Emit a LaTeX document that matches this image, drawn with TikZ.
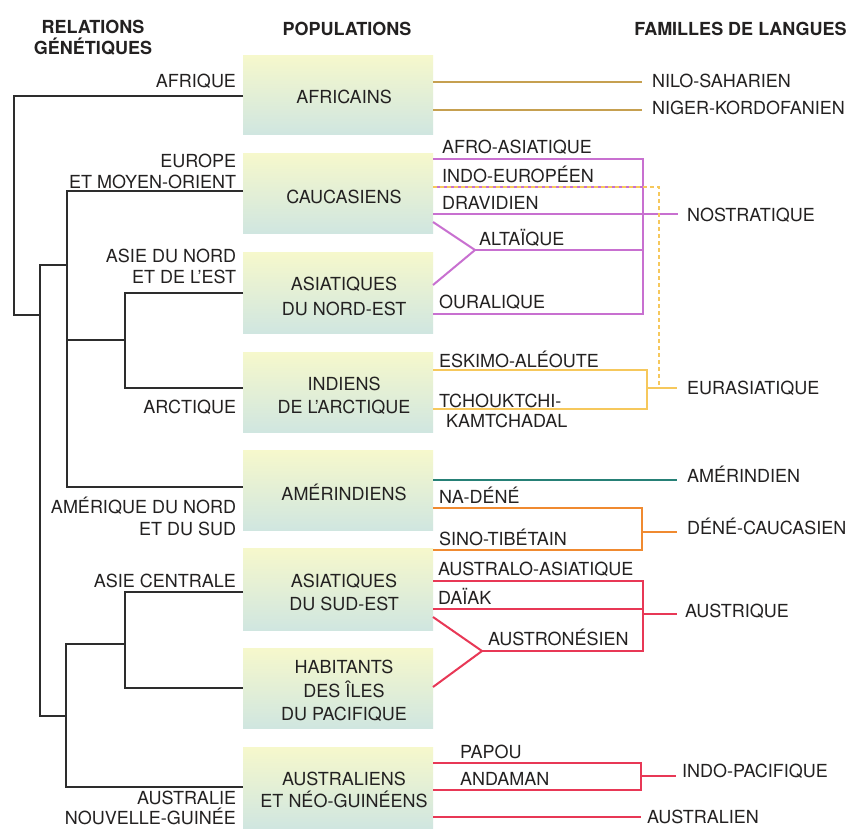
\documentclass[tikz,border=0pt]{standalone}
\usepackage{fontspec}
\setmainfont{TeX Gyre Heros}
\definecolor{txt}{RGB}{35,33,33}
\definecolor{treecol}{RGB}{45,45,45}
\definecolor{boxtop}{RGB}{246,248,204}
\definecolor{boxbot}{RGB}{208,230,224}
\definecolor{goldc}{RGB}{198,160,80}
\definecolor{magc}{RGB}{200,112,208}
\definecolor{yelc}{RGB}{246,200,92}
\definecolor{tealc}{RGB}{38,128,118}
\definecolor{orac}{RGB}{240,138,48}
\definecolor{redc}{RGB}{232,56,86}
\begin{document}
\begin{tikzpicture}[x=1pt,y=-1pt,
  every node/.style={inner sep=0pt, outer sep=0pt, text=txt, font=\fontsize{18}{22}\selectfont},
  popbox/.style={minimum width=190pt, minimum height=80pt, anchor=north west, top color=boxtop, bottom color=boxbot, draw=none},
  ptxt/.style={anchor=base},
  llab/.style={anchor=base east},
  rlab/.style={anchor=base west},
  head/.style={anchor=base, font=\fontsize{18}{22}\selectfont\bfseries},
  tree/.style={draw=treecol, line width=1.4pt},
  fam/.style={line width=2pt, line join=miter},
  goldl/.style={fam, draw=goldc},
  magl/.style={fam, draw=magc},
  yell/.style={fam, draw=yelc},
  teall/.style={fam, draw=tealc},
  oral/.style={fam, draw=orac},
  redl/.style={fam, draw=redc},
  dashl/.style={draw=yelc, line width=1.6pt, dash pattern=on 4pt off 3pt}]
\fill[white] (0,0) rectangle (853,828);
\useasboundingbox (0,0) rectangle (853,828);

% headers
\node[head] (hrel) at (93,33) {RELATIONS};
\node[head] (hgen) at (93,54) {GÉNÉTIQUES};
\node[head] (hpop) at (347,35) {POPULATIONS};
\node[head] (hfam) at (740.5,35) {FAMILLES DE LANGUES};

% population boxes
\node[popbox, minimum height=79pt] (afr) at (243,55) {};
\node[popbox] (cau) at (243,153) {};
\node[popbox, minimum height=81pt] (ane) at (243,252) {};
\node[popbox] (ind) at (243,352) {};
\node[popbox] (ame) at (243,450) {};
\node[popbox, minimum height=82pt] (ase) at (243,548) {};
\node[popbox] (hab) at (243,648) {};
\node[popbox, minimum height=81pt] (aus) at (243,747) {};

% population texts
\node[ptxt] (tafr) at (344,103) {AFRICAINS};
\node[ptxt] (tcau) at (344,203) {CAUCASIENS};
\node[ptxt] (tane1) at (344,290) {ASIATIQUES};
\node[ptxt] (tane2) at (344,315) {DU NORD-EST};
\node[ptxt] (tind1) at (344,390) {INDIENS};
\node[ptxt] (tind2) at (344,413) {DE L'ARCTIQUE};
\node[ptxt] (tame) at (344,500) {AMÉRINDIENS};
\node[ptxt] (tase1) at (344,587) {ASIATIQUES};
\node[ptxt] (tase2) at (344,610) {DU SUD-EST};
\node[ptxt] (thab1) at (344,673) {HABITANTS};
\node[ptxt] (thab2) at (344,697) {DES ÎLES};
\node[ptxt] (thab3) at (344,720) {DU PACIFIQUE};
\node[ptxt] (taus1) at (344,785) {AUSTRALIENS};
\node[ptxt] (taus2) at (344,807) {ET NÉO-GUINÉENS};

% left labels
\node[llab] (lafr) at (236,87) {AFRIQUE};
\node[llab] (leur1) at (236,167) {EUROPE};
\node[llab] (leur2) at (236,188) {ET MOYEN-ORIENT};
\node[llab] (lasi1) at (236,262) {ASIE DU NORD};
\node[llab] (lasi2) at (236,283) {ET DE L'EST};
\node[llab] (larc) at (236,413) {ARCTIQUE};
\node[llab] (lam1) at (236,513) {AMÉRIQUE DU NORD};
\node[llab] (lam2) at (236,535) {ET DU SUD};
\node[llab] (lac) at (236,587) {ASIE CENTRALE};
\node[llab] (lau1) at (236,804) {AUSTRALIE};
\node[llab] (lau2) at (236,824.5) {NOUVELLE-GUINÉE};

% tree
\coordinate (r1) at (14,315);
\coordinate (r2) at (40,315);
\coordinate (a1) at (40,265);
\coordinate (a2) at (40,716);
\coordinate (b1) at (67,265);
\coordinate (e1) at (66,716);
\coordinate (bx) at (67,340);
\coordinate (cx) at (125,340);
\coordinate (ex) at (66,644);
\coordinate (dx) at (125,644);
\draw[tree] ([yshift=-1.5pt]afr.west) -| (r1) -- (r2);
\draw[tree] (b1) -- (a1) -- (a2) -- (e1);
\draw[tree] ([yshift=2pt]cau.west) -| (bx) |- ([yshift=3pt]ame.west);
\draw[tree] ([yshift=-0.5pt]ane.west) -| (cx) |- ([yshift=4pt]ind.west);
\draw[tree] (bx) -- (cx);
\draw[tree] ([yshift=-3pt]ase.west) -| (dx) |- (hab.west);
\draw[tree] (dx) -- (ex) |- ([yshift=0.5pt]aus.west);

% right labels
\node[rlab] (nilo) at (652,87) {NILO-SAHARIEN};
\node[rlab] (niger) at (652,114) {NIGER-KORDOFANIEN};
\node[rlab] (afas) at (442,153) {AFRO-ASIATIQUE};
\node[rlab] (ineu) at (442,182) {INDO-EUROPÉEN};
\node[rlab] (drav) at (442,209) {DRAVIDIEN};
\node[rlab] (nost) at (687,221) {NOSTRATIQUE};
\node[rlab] (alta) at (479,245) {ALTAÏQUE};
\node[rlab] (oura) at (439,308) {OURALIQUE};
\node[rlab] (eski) at (439,367) {ESKIMO-ALÉOUTE};
\node[rlab] (tch1) at (439,407) {TCHOUKTCHI-};
\node[rlab] (tch2) at (446,427) {KAMTCHADAL};
\node[rlab] (eura) at (687,394) {EURASIATIQUE};
\node[rlab] (amer) at (687,482) {AMÉRINDIEN};
\node[rlab] (nade) at (439,503) {NA-DÉNÉ};
\node[rlab] (deca) at (687,534) {DÉNÉ-CAUCASIEN};
\node[rlab] (sino) at (439,545) {SINO-TIBÉTAIN};
\node[rlab] (auas) at (438,575) {AUSTRALO-ASIATIQUE};
\node[rlab] (daia) at (438,604) {DAÏAK};
\node[rlab] (austq) at (685,617) {AUSTRIQUE};
\node[rlab] (ausn) at (488,645) {AUSTRONÉSIEN};
\node[rlab] (papo) at (460,758) {PAPOU};
\node[rlab] (anda) at (460,785) {ANDAMAN};
\node[rlab] (inpa) at (682,777) {INDO-PACIFIQUE};
\node[rlab] (ausl) at (647,823) {AUSTRALIEN};

% family line end points
\coordinate (nsE) at (642,82);
\coordinate (nkE) at (642,110);
\coordinate (aaE) at (643,159);
\coordinate (ieE) at (643,187);
\coordinate (nosE) at (678,214);
\coordinate (altJ) at (475,250);
\coordinate (altE) at (643,250);
\coordinate (ouE) at (643,314);
\coordinate (eskE) at (647,370);
\coordinate (tchE) at (647,409);
\coordinate (eurJ) at (647,388);
\coordinate (eurE) at (677,388);
\coordinate (dashC) at (659,187);
\coordinate (dashB) at (659,388);
\coordinate (amE) at (677,480);
\coordinate (ndE) at (642,508);
\coordinate (stE) at (642,550);
\coordinate (dcJ) at (642,532);
\coordinate (dcE) at (677,532);
\coordinate (aasE) at (643,581);
\coordinate (dkE) at (643,609);
\coordinate (anE) at (643,651);
\coordinate (anJ) at (482,651);
\coordinate (auJ) at (643,614);
\coordinate (auE) at (677,614);
\coordinate (paE) at (641,763);
\coordinate (amnE) at (641,790);
\coordinate (ipJ) at (641,776);
\coordinate (ipE) at (676,776);
\coordinate (alE) at (641,817);

% gold
\draw[goldl] (afr.east |- nsE) -- (nsE);
\draw[goldl] (afr.east |- nkE) -- (nkE);
% nostratique
\draw[magl] (cau.east |- aaE) -- (aaE) -- (ouE) -- (ane.east |- ouE);
\draw[magl] (cau.east |- ieE) -- (ieE);
\draw[magl] (cau.east |- nosE) -- (nosE);
\draw[magl] (cau.east |- 0,222) -- (altJ) -- (ane.east |- 0,285);
\draw[magl] (altJ) -- (altE);
% eurasiatique
\draw[yell] (ind.east |- eskE) -- (eskE) -- (tchE) -- (ind.east |- tchE);
\draw[yell] (eurJ) -- (eurE);
\draw[dashl] (cau.east |- dashC) -- (dashC) -- (dashB);
% amerindien
\draw[teall] (ame.east |- amE) -- (amE);
% dene-caucasien
\draw[oral] (ame.east |- ndE) -- (ndE) -- (stE) -- (ame.east |- stE);
\draw[oral] (dcJ) -- (dcE);
% austrique
\draw[redl] (ase.east |- aasE) -- (aasE) -- (anE) -- (anJ);
\draw[redl] (ase.east |- dkE) -- (dkE);
\draw[redl] (ase.east |- 0,617) -- (anJ) -- (hab.east |- 0,687);
\draw[redl] (auJ) -- (auE);
% indo-pacifique
\draw[redl] (aus.east |- paE) -- (paE) -- (amnE) -- (aus.east |- amnE);
\draw[redl] (ipJ) -- (ipE);
\draw[redl] (aus.east |- alE) -- (alE);
\end{tikzpicture}
\end{document}
